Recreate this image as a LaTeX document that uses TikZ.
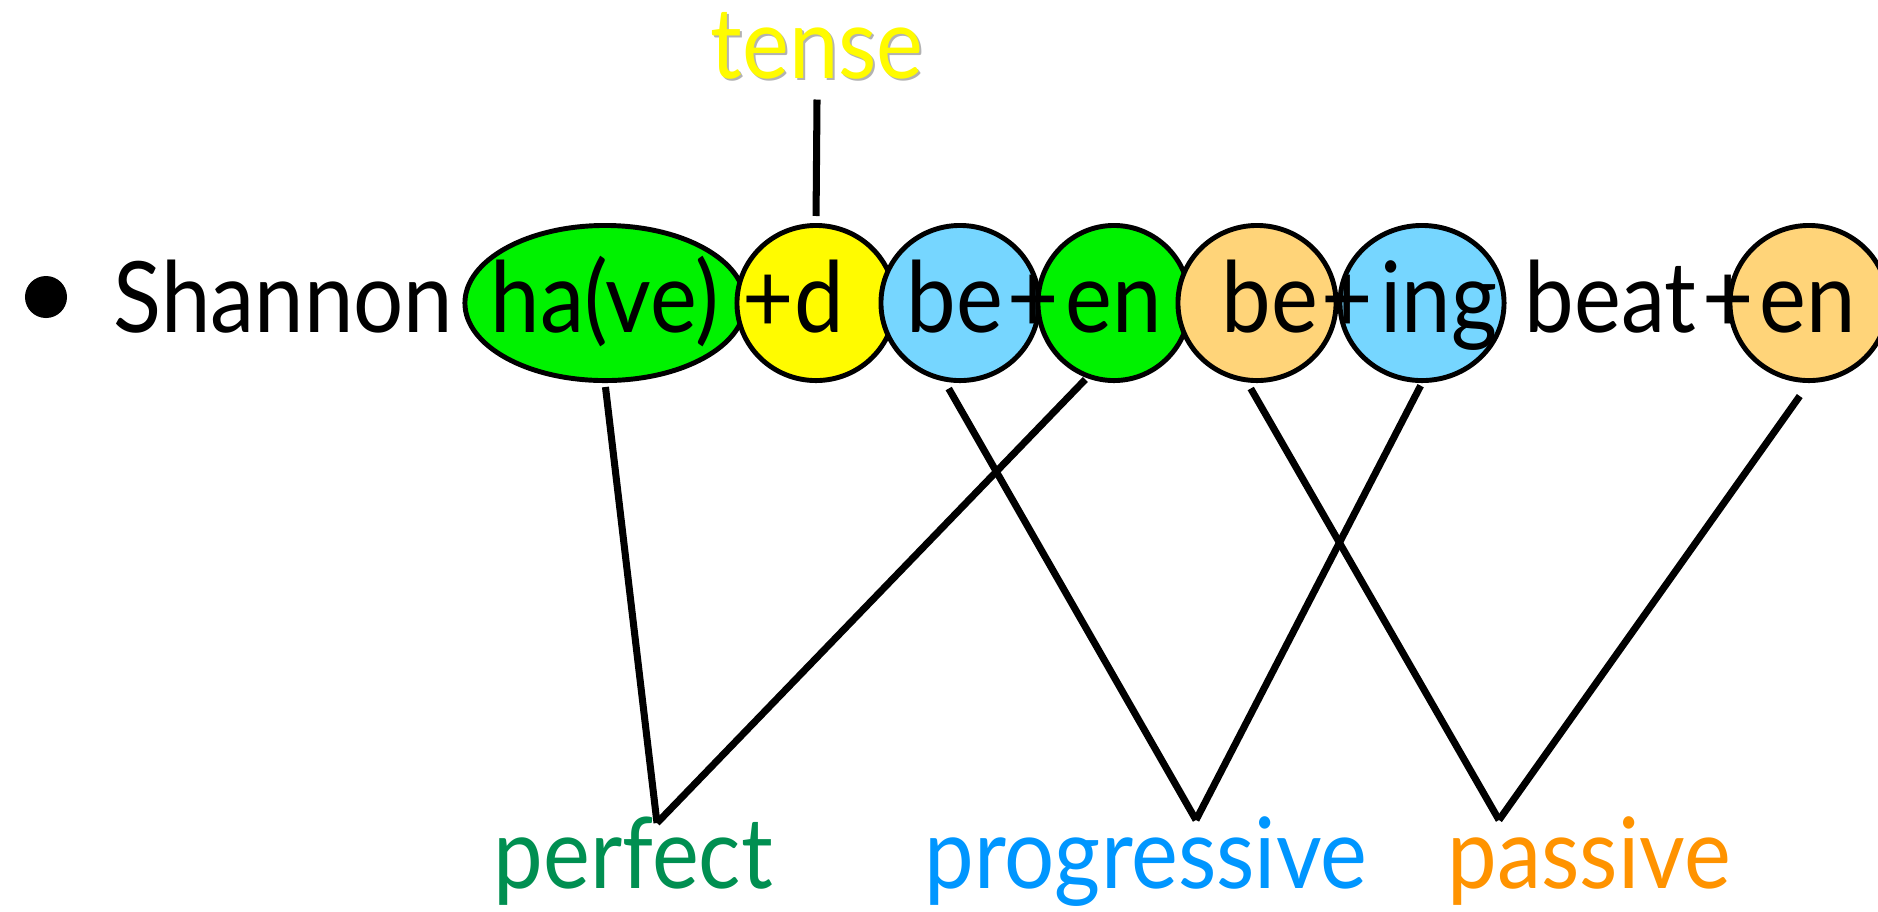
\documentclass[tikz,border=0pt]{standalone}
\usepackage{fontspec}
\setmainfont[FakeStretch=0.9]{Lato}
\usepackage{tikz}
\usetikzlibrary{shapes,calc}

\definecolor{perfgreen}{RGB}{0,242,0}
\definecolor{tnsyellow}{RGB}{255,251,0}
\definecolor{progblue}{RGB}{118,214,255}
\definecolor{passorange}{RGB}{255,212,121}
\definecolor{perftext}{RGB}{0,143,81}
\definecolor{progtext}{RGB}{0,150,255}
\definecolor{passtext}{RGB}{255,147,0}

\tikzset{
    morph/.style={ellipse, draw, line width=1.4pt, minimum width=1.58cm, minimum height=1.55cm, inner sep=0pt},
    word/.style={anchor=base west, inner sep=0pt, font=\fontsize{28}{30}\selectfont},
    link/.style={line width=2pt}
}

\begin{document}
\begin{tikzpicture}[x=0.01cm, y=-0.01cm]
    \useasboundingbox (0,0) rectangle (1878,911);

    \node[circle, fill, inner sep=0pt, minimum size=0.42cm] (bullet) at (46,297) {};

    \node[morph, fill=perfgreen, minimum width=2.8cm] (have) at (605,303) {};
    \node[morph, fill=tnsyellow] (tns) at (816,303) {};
    \node[morph, fill=progblue] (be1) at (960,303) {};
    \node[morph, fill=perfgreen, minimum width=1.52cm] (en1) at (1114,303) {};
    \node[morph, fill=passorange] (be2) at (1257,303) {};
    \node[morph, fill=progblue, minimum width=1.64cm] (ing) at (1422,303) {};
    \node[morph, fill=passorange] (en2) at (1809,303) {};

    \node[word] (shannon) at (113,332) {Shannon};
    \node[word] (havetxt) at (490,332) {ha(ve)};
    \node[word] (dtxt) at (742,332) {+d};
    \node[word] (be1txt) at (906,332) {be};
    \node[word] (plus1) at (1007,332) {+};
    \node[word] (en1txt) at (1065,332) {en};
    \node[word] (be2txt) at (1221,332) {be};
    \node[word] (plus2) at (1321,332) {+};
    \node[word] (ingtxt) at (1380,332) {ing};
    \node[word] (beat) at (1524,332) {beat};
    \node[word] (plus3) at (1702,332) {+};
    \node[word] (en2txt) at (1759,332) {en};

    \node[word, text=black!30] (tenseshadow) at (712,80) {tense};
    \node[word, text=tnsyellow] (tense) at (710,78) {tense};
    \node[word, text=perftext] (perfect) at (493,888) {perfect};
    \node[word, text=progtext] (progressive) at (924,888) {progressive};
    \node[word, text=passtext] (passive) at (1447,888) {passive};

    \coordinate (vperf) at (657,823);
    \coordinate (vprog) at (1196,820);
    \coordinate (vpass) at (1499,820);

    \draw[link, shorten <=0.07cm, shorten >=0.2cm] (tns.north) -- (tense.south);
    \draw[link, shorten <=0.04cm] (have.south) -- (vperf);
    \draw[link, shorten <=0.02cm] (en1.-110) -- (vperf);
    \draw[link, shorten <=0.08cm] (be1.-101) -- (vprog);
    \draw[link, shorten <=0.03cm] (ing.south) -- (vprog);
    \draw[link, shorten <=0.07cm] (be2.-97) -- (vpass);
    \draw[link, shorten <=0.16cm] (en2.south) -- (vpass);
\end{tikzpicture}
\end{document}
